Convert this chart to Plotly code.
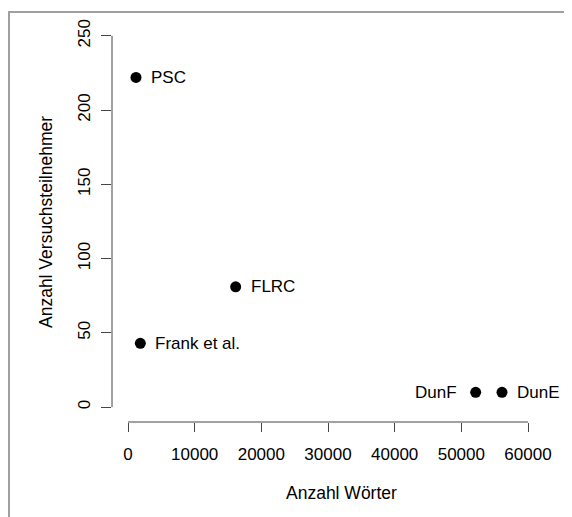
import plotly.graph_objects as go

corpora = ["PSC", "Frank et al.", "FLRC", "DunF", "DunE"]
words = [1200, 1850, 16150, 52150, 56100]
participants = [222, 43, 81, 10, 10]
label_side = ["right", "right", "right", "left", "right"]

x_ticks = [0, 10000, 20000, 30000, 40000, 50000, 60000]
y_ticks = [0, 50, 100, 150, 200, 250]

# page body has an 8px margin, so the figure is offset by 8px
OFF = 8
W, H = 572 - OFF, 517 - OFF
ML, MR, MT, MB = 104, 28, 11, 95
FONT = "Liberation Sans, Arial, Helvetica, sans-serif"
FS = 17

fig = go.Figure()
fig.add_trace(go.Scatter(
    x=words, y=participants, mode="markers",
    marker=dict(size=11, color="black"),
    hoverinfo="skip", showlegend=False,
))

annotations = []
for name, xv, yv, side in zip(corpora, words, participants, label_side):
    annotations.append(dict(
        x=xv, y=yv, xref="x", yref="y", text=name, showarrow=False,
        xanchor="left" if side == "right" else "right",
        xshift=13 if side == "right" else -17,
        font=dict(family=FONT, size=FS, color="black"),
    ))

pw = W - ML - MR
ph = H - MT - MB
bottom_px = H - MB
annotations.append(dict(
    x=(341 - OFF - ML) / pw, y=-(493 - OFF - bottom_px) / ph,
    xref="paper", yref="paper",
    text="Anzahl Wörter", showarrow=False, xanchor="center", yanchor="middle",
    font=dict(family=FONT, size=FS + 0.5, color="black"),
))
annotations.append(dict(
    x=-(ML - (46 - OFF)) / pw, y=(bottom_px - (221 - OFF)) / ph,
    xref="paper", yref="paper",
    text="Anzahl Versuchsteilnehmer", showarrow=False, textangle=-90,
    xanchor="center", yanchor="middle",
    font=dict(family=FONT, size=FS + 0.5, color="black"),
))

shapes = [
    dict(type="line", xref="paper", yref="y", x0=0, x1=0,
         y0=y_ticks[0], y1=y_ticks[-1], line=dict(color="#444", width=1)),
    dict(type="line", xref="x", yref="paper", x0=x_ticks[0], x1=x_ticks[-1],
         y0=0, y1=0, line=dict(color="#444", width=1)),
    dict(type="rect", xref="paper", yref="paper",
         x0=-(ML - (9 - OFF)) / pw, x1=(W + 20 - ML) / pw,
         y0=-(MB + 20) / ph, y1=(bottom_px - (10 - OFF)) / ph,
         line=dict(color="#a0a0a0", width=2), layer="below"),
]

fig.update_layout(
    width=W, height=H,
    margin=dict(l=ML, r=MR, t=MT, b=MB),
    paper_bgcolor="white", plot_bgcolor="white",
    font=dict(family=FONT, size=FS, color="black"),
    annotations=annotations, shapes=shapes,
    xaxis=dict(
        range=[-2400, 62400], tickvals=x_ticks, ticktext=[str(v) for v in x_ticks],
        ticks="outside", ticklen=9, tickcolor="#444", tickwidth=1,
        showline=False, showgrid=False, zeroline=False,
        ticklabelstandoff=8,
        tickfont=dict(family=FONT, size=FS, color="black"),
    ),
    yaxis=dict(
        range=[-10, 260], tickvals=y_ticks, ticktext=[str(v) for v in y_ticks],
        ticks="outside", ticklen=10, tickcolor="#444", tickwidth=1,
        showline=False, showgrid=False, zeroline=False, tickangle=-90,
        ticklabelstandoff=4,
        tickfont=dict(family=FONT, size=FS, color="black"),
    ),
)

fig.write_html("out.html")
